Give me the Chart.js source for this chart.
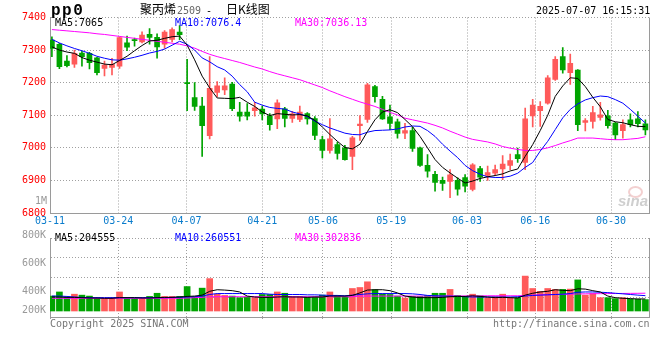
<!DOCTYPE html>
<html>
<head>
<meta charset="utf-8">
<script src="https://cdn.jsdelivr.net/npm/chart.js@4.4.1/dist/chart.umd.min.js"></script>
<style>
  body { margin: 0; background: #fff; }
  #wrap { position: relative; width: 660px; height: 360px; overflow: hidden; font-family: 'DejaVu Sans Mono', monospace; font-size: 10px; }
  canvas { position: absolute; left: 0; }
  .t { position: absolute; white-space: pre; line-height: 10px; }
</style>
</head>
<body>
<div id="wrap">
  <canvas id="price" width="660" height="228" style="top:0"></canvas>
  <canvas id="vol" width="660" height="100" style="top:228px"></canvas>

  <div class="t" style="left:51px;top:4px;font:bold 16px 'Liberation Mono';line-height:14px;letter-spacing:1.5px;">pp0</div>
  <div class="t" style="left:140px;top:3px;font-family:'Noto Sans CJK SC';font-size:12px;line-height:12px;">聚丙烯</div>
  <div class="t" style="left:177px;top:6px;color:#666;">2509</div>
  <div class="t" style="left:206px;top:6px;">-</div>
  <div class="t" style="left:226px;top:3px;font-family:'Noto Sans CJK SC';font-size:12px;line-height:12px;">日K线图</div>
  <div class="t" style="left:536px;top:6px;">2025-07-07 16:15:31</div>

  <div class="t" style="left:55px;top:18px;color:#000;">MA5:7065</div>
  <div class="t" style="left:175px;top:18px;color:#0000ff;">MA10:7076.4</div>
  <div class="t" style="left:295px;top:18px;color:#ff00ff;">MA30:7036.13</div>
  <div class="t" style="left:35px;top:196px;color:#999;">1M</div>

  <div class="t" style="left:55px;top:233px;color:#000;">MA5:204555</div>
  <div class="t" style="left:175px;top:233px;color:#0000ff;">MA10:260551</div>
  <div class="t" style="left:295px;top:233px;color:#ff00ff;">MA30:302836</div>

  <div class="t" style="left:50px;top:319px;color:#777;">Copyright 2025 SINA.COM</div>
  <div class="t" style="left:493px;top:319px;color:#777;">http://finance.sina.com.cn</div>

  <div class="t" style="left:628px;top:186px;width:11px;height:8px;border:2px solid #f3d0d0;border-radius:50%;"></div>
  <div class="t" style="left:618px;top:194px;font:italic bold 15px 'Liberation Sans';line-height:14px;color:#cfcfcf;">sina</div>
</div>

<script>
// x axis dates (index of the trading day each label sits on)
const tickIdx = [0, 9, 18, 28, 36, 45, 55, 64, 74];
const tickLabels = ['03-11', '03-24', '04-07', '04-21', '05-06', '05-19', '06-03', '06-16', '06-30'];
// volume axis: where sina prints its labels, and where its dotted grid runs (thousands)
const volTickLabels = ['200K', '400K', '600K', '800K'];
const volLabelAt = [-37, 287, 761, 1242];
const volGridAt = [238, 562, 902, 1242];

// daily candles, 80 trading days
const opens = [7331,7318,7266,7257,7291,7290,7276,7244,7247,7251, 7322,7331,7325,7348,7339,7318,7333,7355,7200,7154,
  7128,7037,7170,7178,7196,7110,7110,7114,7119,7098, 7089,7120,7090,7087,7105,7090,7025,6992,7010,7000,
  6974,7068,7087,7188,7149,7095,7080,7045,7053,7000, 6946,6919,6900,6897,6900,6909,6872,6936,6915,6922,
  6935,6946,6979,6955,7098,7114,7137,7210,7280,7231, 7239,7078,7081,7093,7098,7076,7053,7086,7089,7074];
const highs = [7341,7321,7283,7300,7297,7293,7278,7266,7275,7341, 7343,7337,7356,7366,7350,7360,7368,7375,7272,7200,
  7155,7280,7203,7215,7201,7140,7136,7140,7128,7105, 7147,7124,7112,7128,7108,7096,7035,7090,7018,7008,
  7035,7099,7198,7192,7158,7131,7088,7075,7063,7002, 6979,6928,6910,6933,6908,6918,6952,6943,6944,6947,
  6976,6981,6999,7122,7149,7142,7222,7280,7308,7288, 7240,7090,7127,7140,7115,7078,7086,7104,7111,7086];
const lows = [7280,7243,7248,7247,7251,7242,7224,7221,7224,7244, 7298,7312,7322,7318,7275,7305,7325,7332,7114,7115,
  6974,7027,7157,7163,7114,7082,7086,7097,7086,7054, 7059,7064,7078,7080,7073,7025,6969,6984,6965,6962,
  6933,7023,7078,7140,7087,7056,7030,7028,6989,6943, 6910,6867,6869,6847,6855,6865,6868,6897,6900,6915,
  6902,6933,6955,6933,7064,7066,7134,7207,7229,7195, 7053,7052,7060,7085,7060,7025,7030,7064,7064,7040];
const closes = [7305,7249,7252,7290,7280,7261,7231,7254,7256,7338, 7309,7329,7346,7339,7310,7355,7363,7347,7197,7127,
  7068,7183,7190,7190,7120,7097,7097,7123,7104,7071, 7138,7090,7104,7110,7089,7038,6992,7028,6983,6964,
  7031,7073,7193,7157,7089,7075,7044,7053,6998,6946, 6928,6894,6891,6917,6873,6882,6948,6910,6924,6933,
  6950,6961,6967,7089,7131,7127,7215,7272,7239,7259, 7071,7084,7108,7101,7068,7040,7071,7071,7074,7055];

// price moving averages as drawn
const ma5 = [7310,7300,7294,7290,7277,7269,7263,7257,7255,7268, 7281,7298,7314,7328,7330,7336,7341,7343,7315,7270,
  7220,7184,7153,7152,7151,7155,7140,7127,7110,7099, 7105,7103,7101,7102,7098,7084,7064,7041,7020,7001,
  6997,7011,7050,7086,7110,7117,7108,7087,7065,7035, 7000,6964,6940,6923,6907,6892,6898,6906,6911,6915,
  6920,6929,6935,6974,7010,7053,7100,7158,7190,7215, 7213,7188,7155,7126,7087,7080,7077,7071,7066,7065];
const ma10 = [7333,7322,7313,7305,7298,7290,7281,7275,7270,7269, 7273,7278,7284,7291,7296,7303,7315,7327,7318,7300,
  7276,7264,7249,7239,7220,7194,7172,7140,7131,7124, 7121,7119,7110,7104,7096,7082,7071,7061,7053,7045,
  7041,7040,7048,7053,7054,7055,7058,7064,7067,7066, 7053,7035,7011,6990,6970,6946,6930,6919,6911,6909,
  6909,6913,6922,6940,6955,6990,7020,7056,7092,7118, 7135,7147,7154,7159,7157,7148,7137,7118,7097,7076];
const ma30 = [7363,7361,7359,7357,7355,7353,7350,7348,7345,7342, 7339,7336,7333,7330,7327,7324,7321,7318,7313,7306,
  7296,7287,7280,7274,7268,7262,7255,7248,7242,7234, 7227,7221,7215,7209,7201,7193,7185,7175,7166,7157,
  7149,7141,7134,7127,7118,7109,7101,7091,7086,7081, 7076,7069,7061,7051,7042,7033,7026,7022,7018,7012,
  7004,6999,6995,6992,6992,6995,7000,7007,7015,7022, 7030,7030,7030,7028,7026,7025,7025,7027,7029,7034];

// volume, thousands of lots
const vol = [254,324,238,286,270,254,216,216,216,324, 216,216,216,248,302,248,248,248,416,243,
  389,551,286,265,254,227,238,227,281,281, 324,302,248,248,238,238,270,324,265,243,
  383,400,497,362,292,281,254,221,248,248, 265,302,302,367,265,243,286,259,227,243,
  286,227,227,594,383,335,383,367,367,373, 529,270,297,227,227,211,227,200,200,194];
const vma5 = [238,238,232,232,227,221,221,216,216,227, 227,227,221,221,227,232,232,238,248,254,
  270,335,362,356,346,324,254,238,232,232, 238,243,238,238,232,238,238,254,254,254,
  265,308,356,362,362,346,308,254,238,227, 227,227,232,243,248,248,259,248,238,227,
  232,227,221,270,302,324,335,362,351,346, 378,373,346,324,254,227,216,211,205,205];
const vma10 = [254,254,248,238,232,227,227,227,227,227, 227,227,227,227,227,227,232,232,238,243,
  254,281,297,297,297,297,297,297,297,286, 281,281,281,281,275,275,270,265,265,259,
  270,281,292,297,297,297,297,297,292,281, 265,259,254,254,248,243,238,238,238,238,
  238,238,243,254,265,270,275,281,286,297, 319,324,324,319,313,302,292,281,270,261];
const vma30 = [216,216,216,216,216,216,216,216,216,216, 216,216,216,216,216,216,216,216,221,227,
  232,243,243,243,243,243,243,243,243,243, 243,243,243,243,243,243,243,243,243,243,
  243,254,254,254,254,254,254,254,254,254, 254,254,254,256,256,256,256,256,259,259,
  259,259,259,265,270,275,278,281,283,286, 290,292,294,295,297,298,299,300,301,303];

const RED = '#ff5a5a';
const GREEN = '#00a400';
const GRID = '#a0a0a0';
const EDGE = '#9a9a9a';
const FONT = { family: "'DejaVu Sans Mono', monospace", size: 10 };

const idx = closes.map((_, i) => i);
const candleColor = idx.map(i => closes[i] >= opens[i] ? RED : GREEN);
const pts = arr => idx.map(i => ({ x: i, y: arr[i] }));
const maLine = (arr, color) => ({
  type: 'line', data: pts(arr), borderColor: color, borderWidth: 1,
  pointRadius: 0, tension: 0, order: 0
});

// solid frame line on the right side of the plot
const rightEdge = {
  id: 'rightEdge',
  afterDraw(chart) {
    const { ctx, chartArea: a } = chart;
    ctx.save();
    ctx.strokeStyle = EDGE;
    ctx.lineWidth = 1;
    ctx.beginPath();
    ctx.moveTo(a.right + 0.5, a.top);
    ctx.lineTo(a.right + 0.5, a.bottom + 1);
    ctx.stroke();
    ctx.restore();
  }
};

// candles sit a little inside the frame, date grid spans it edge to edge
const candleAxis = { type: 'linear', min: -0.253, max: 79.48, display: false, offset: false, grid: { offset: false } };
const dateAxis = (showLabels, height) => ({
  type: 'linear', position: 'bottom', min: 0, max: 79, offset: false,
  afterBuildTicks: s => { s.ticks = tickIdx.map(v => ({ value: v })); },
  afterFit: s => { s.height = height; },
  ticks: {
    display: showLabels, autoSkip: false, maxRotation: 0, padding: 2,
    color: '#0a7ccc', font: FONT,
    callback: (v, k) => tickLabels[k]
  },
  grid: { color: GRID, offset: false, drawTicks: !showLabels, tickLength: 4, tickColor: GRID, tickBorderDash: [1, 2] },
  border: { color: EDGE, dash: [1, 2] }
});

new Chart(document.getElementById('price'), {
  type: 'bar',
  data: {
    datasets: [
      maLine(ma5, '#000000'),
      maLine(ma10, '#0000ff'),
      maLine(ma30, '#ff00ff'),
      {
        data: idx.map(i => ({ x: i, y: [lows[i], highs[i]] })),
        backgroundColor: candleColor, barThickness: 1, grouped: false, order: 2
      },
      {
        data: idx.map(i => ({ x: i, y: [opens[i], closes[i]] })),
        backgroundColor: candleColor, barThickness: 5, grouped: false, minBarLength: 1, order: 1
      }
    ]
  },
  options: {
    responsive: false,
    animation: false,
    events: [],
    layout: { padding: { left: 0, right: 11, top: 17.5, bottom: 0 } },
    plugins: { legend: { display: false }, tooltip: { enabled: false } },
    scales: {
      x: candleAxis,
      xg: dateAxis(true, 15),
      y: {
        min: 6800, max: 7400,
        afterFit: s => { s.width = 50; },
        ticks: { stepSize: 100, color: '#ff0000', font: FONT, padding: 4, callback: v => String(v) },
        grid: { color: GRID, drawTicks: false },
        border: { color: EDGE, dash: [1, 2] }
      }
    }
  },
  plugins: [rightEdge]
});

new Chart(document.getElementById('vol'), {
  type: 'bar',
  data: {
    datasets: [
      maLine(vma5, '#000000'),
      maLine(vma10, '#0000ff'),
      maLine(vma30, '#ff00ff'),
      {
        data: pts(vol),
        backgroundColor: candleColor, barThickness: 6, grouped: false, order: 1
      }
    ]
  },
  options: {
    responsive: false,
    animation: false,
    events: [],
    layout: { padding: { left: 0, right: 11, top: 6, bottom: 0 } },
    plugins: { legend: { display: false }, tooltip: { enabled: false } },
    scales: {
      x: candleAxis,
      xg: dateAxis(false, 11),
      y: {
        min: -102, max: 1242, weight: 0,
        afterFit: s => { s.width = 0; },
        afterBuildTicks: s => { s.ticks = volGridAt.map(v => ({ value: v })); },
        ticks: { display: false },
        grid: { color: GRID, drawTicks: false },
        border: { color: EDGE, dash: [1, 2] }
      },
      yl: {
        position: 'left', min: -102, max: 1242, weight: 1,
        afterFit: s => { s.width = 50; },
        afterBuildTicks: s => { s.ticks = volLabelAt.map(v => ({ value: v })); },
        ticks: { color: '#999999', font: FONT, padding: 4, labelOffset: -3, callback: (v, k) => volTickLabels[k] },
        grid: { display: false, drawTicks: false },
        border: { display: false }
      }
    }
  },
  plugins: [rightEdge]
});
</script>
</body>
</html>
